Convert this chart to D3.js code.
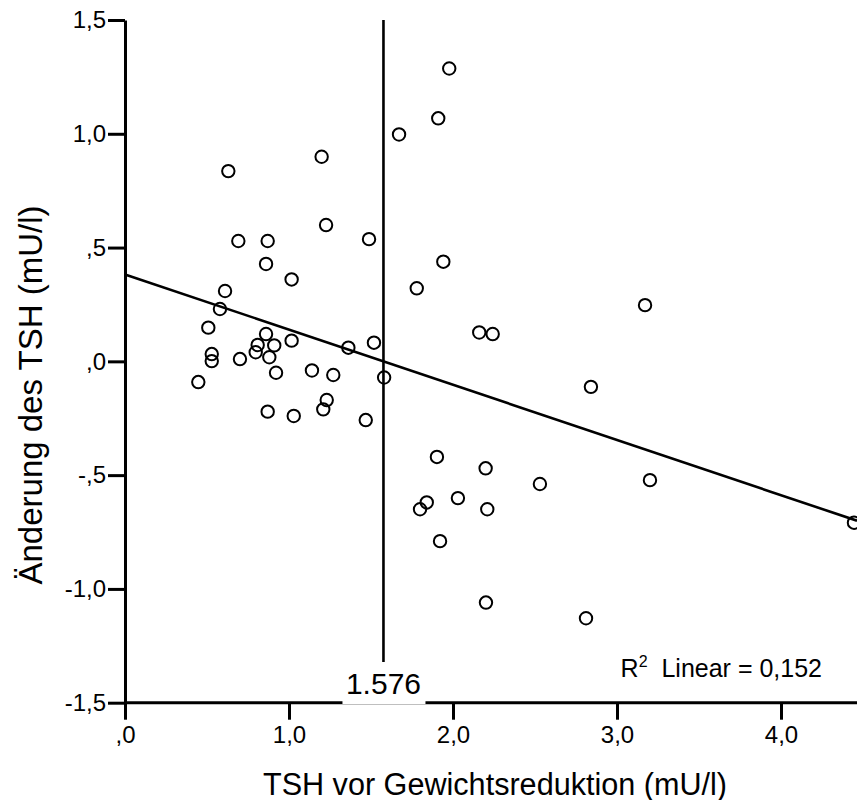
<!DOCTYPE html>
<html>
<head>
<meta charset="utf-8">
<script src="https://cdn.jsdelivr.net/npm/d3@7"></script>
<style>
  html, body { margin: 0; padding: 0; background: #fff; }
  svg { display: block; font-family: "Liberation Sans", Arial, sans-serif; }
</style>
</head>
<body>
<div id="chart"></div>
<script>
// ---- data ----
const tshBefore = [0.630, 1.199, 1.671, 1.977, 1.910, 0.691, 0.870, 1.226, 1.488, 0.860,
  1.016, 1.941, 1.779, 0.610, 0.579, 3.171, 0.508, 2.160, 2.242, 0.860,
  0.809, 0.797, 0.910, 1.016, 1.362, 1.518, 0.529, 0.529, 0.701, 0.880,
  0.447, 0.921, 1.140, 1.270, 1.580, 2.841, 0.870, 1.029, 1.230, 1.209,
  1.468, 1.902, 2.199, 2.530, 3.201, 1.840, 1.799, 2.030, 2.209, 1.921,
  2.201, 2.811, 4.445];
const tshChange = [0.836, 0.899, 0.997, 1.287, 1.068, 0.529, 0.529, 0.599, 0.537, 0.428,
  0.360, 0.438, 0.321, 0.309, 0.230, 0.247, 0.148, 0.127, 0.120, 0.120,
  0.072, 0.040, 0.070, 0.091, 0.060, 0.082, 0.032, 0.001, 0.010, 0.018,
  -0.091, -0.050, -0.040, -0.060, -0.071, -0.112, -0.221, -0.240, -0.170, -0.211,
  -0.258, -0.420, -0.470, -0.539, -0.522, -0.620, -0.650, -0.601, -0.650, -0.790,
  -1.060, -1.129, -0.709];
const fitIntercept = 0.382;
const fitSlope = -0.2425;
const rSquared = "0,152";
const medianX = 1.576;
const medianLabel = "1.576";
const xTicks = [0, 1, 2, 3, 4];
const xTickLabels = [",0", "1,0", "2,0", "3,0", "4,0"];
const yTicks = [1.5, 1.0, 0.5, 0, -0.5, -1.0, -1.5];
const yTickLabels = ["1,5", "1,0", ",5", ",0", "-,5", "-1,0", "-1,5"];
const xTitle = "TSH vor Gewichtsreduktion (mU/l)";
const yTitle = "Änderung des TSH (mU/l)";

// ---- layout ----
const W = 857, H = 800;
const svg = d3.select("#chart").append("svg").attr("width", W).attr("height", H);

const x = d3.scaleLinear().domain([0, 4.5]).range([125, 125 + 4.5 * 164]);
const y = d3.scaleLinear().domain([-1.5, 1.5]).range([702.7, 20]);

// regression line
const xEnd = x.invert(W);
svg.append("line")
  .attr("x1", x(0)).attr("y1", y(fitIntercept))
  .attr("x2", x(xEnd)).attr("y2", y(fitIntercept + fitSlope * xEnd))
  .attr("stroke", "#000").attr("stroke-width", 2.6);

// median reference line
svg.append("line")
  .attr("x1", x(medianX)).attr("x2", x(medianX))
  .attr("y1", y(1.5)).attr("y2", 662)
  .attr("stroke", "#000").attr("stroke-width", 2.6);

// points
svg.append("g").selectAll("circle")
  .data(tshBefore.map((v, i) => [v, tshChange[i]]))
  .join("circle")
  .attr("cx", d => x(d[0])).attr("cy", d => y(d[1]))
  .attr("r", 6.2)
  .attr("fill", "none").attr("stroke", "#000").attr("stroke-width", 2);

// x axis
const xAxis = d3.axisBottom(x).tickValues(xTicks)
  .tickFormat((d, i) => xTickLabels[i]).tickSize(17).tickSizeOuter(0).tickPadding(6);
const gx = svg.append("g").attr("transform", `translate(0,${y(-1.5)})`).call(xAxis);
gx.select(".domain").attr("stroke-width", 3).attr("d", `M${x(0)},0H${W}`);
gx.selectAll(".tick line").attr("stroke-width", 3);
gx.selectAll(".tick text").attr("font-size", 24).attr("fill", "#000")
  .attr("font-family", "Liberation Sans, Arial, sans-serif");

// y axis
const yAxis = d3.axisLeft(y).tickValues(yTicks)
  .tickFormat((d, i) => yTickLabels[i]).tickSize(17).tickSizeOuter(0).tickPadding(2);
const gy = svg.append("g").attr("transform", `translate(${x(0)},0)`).call(yAxis);
gy.select(".domain").attr("stroke-width", 3);
gy.selectAll(".tick line").attr("stroke-width", 3);
gy.selectAll(".tick text").attr("font-size", 24).attr("fill", "#000")
  .attr("font-family", "Liberation Sans, Arial, sans-serif");

// median label with white box breaking the axis
const lbl = svg.append("g");
lbl.append("rect").attr("x", x(medianX) - 41).attr("y", 664).attr("width", 83).attr("height", 40)
  .attr("fill", "#fff");
lbl.append("text").attr("x", x(medianX)).attr("y", 693.5)
  .attr("text-anchor", "middle").attr("font-size", 30).text(medianLabel);

// R² annotation
const rt = svg.append("text").attr("x", 822).attr("y", 677)
  .attr("text-anchor", "end").attr("font-size", 25);
rt.append("tspan").text("R");
rt.append("tspan").attr("font-size", 16).attr("dy", -10).text("2");
rt.append("tspan").attr("dy", 10).text("\u00a0 Linear = " + rSquared);

// axis titles
svg.append("text").attr("x", (x(0) + W) / 2 + 4).attr("y", 795)
  .attr("text-anchor", "middle").attr("font-size", 30.6).text(xTitle);
svg.append("text").attr("transform", `translate(42,395) rotate(-90)`)
  .attr("text-anchor", "middle").attr("font-size", 33).text(yTitle);
</script>
</body>
</html>
